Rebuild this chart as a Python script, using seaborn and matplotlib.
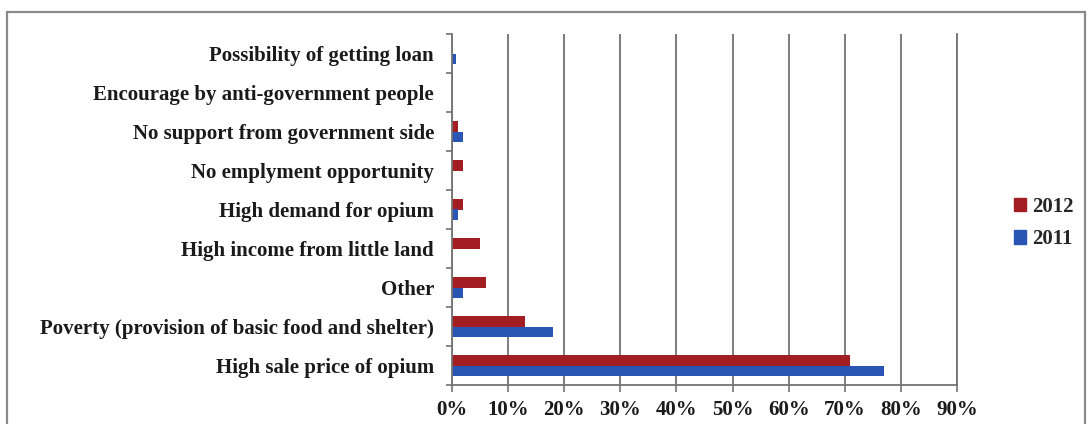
import numpy as np
import pandas as pd
import matplotlib
matplotlib.use("Agg")
import matplotlib.pyplot as plt
import seaborn as sns
from matplotlib.patches import Rectangle
from matplotlib.ticker import FixedLocator, PercentFormatter

# Reasons for growing poppy, share of respondents (%)
reasons = [
    "Possibility of getting loan",
    "Encourage by anti-government people",
    "No support from government side",
    "No emplyment opportunity",
    "High demand for opium",
    "High income from little land",
    "Other",
    "Poverty (provision of basic food and shelter)",
    "High sale price of opium",
]
share_2012 = [0, 0, 1, 2, 2, 5, 6, 13, 71]
share_2011 = [0.8, 0, 2, 0, 1, 0, 2, 18, 77]
years = ["2012", "2011"]
year_colors = ["#A31E23", "#2B55B5"]
x_ticks = [0, 10, 20, 30, 40, 50, 60, 70, 80, 90]

df = pd.DataFrame({
    "Reason": reasons * 2,
    "Share": share_2012 + share_2011,
    "Year": [years[0]] * len(reasons) + [years[1]] * len(reasons),
})

sns.set_theme(style="white")
plt.rcParams["font.family"] = ["Liberation Serif", "DejaVu Serif"]

W, H = 1088, 424
fig = plt.figure(figsize=(W / 100, H / 100), dpi=100)
fig.patch.set_facecolor("white")
ax = fig.add_axes([452 / W, 1 - 385 / H, (957 - 452) / W, (385 - 34) / H])

sns.barplot(
    data=df, y="Reason", x="Share", hue="Year",
    order=reasons, hue_order=years, palette=year_colors,
    orient="h", width=0.56, saturation=1, linewidth=0,
    ax=ax,
)

grid_color = "#737373"
ax.set_xlim(0, 90)
ax.xaxis.set_major_locator(FixedLocator(x_ticks))
ax.xaxis.set_major_formatter(PercentFormatter(decimals=0))
ax.xaxis.grid(True, color=grid_color, linewidth=1.3)
ax.set_axisbelow(True)
ax.set_xlabel("")
ax.set_ylabel("")

for side in ["left", "bottom", "right"]:
    ax.spines[side].set_visible(True)
    ax.spines[side].set_color(grid_color)
    ax.spines[side].set_linewidth(1.3)
ax.spines["top"].set_visible(False)

# category separators as outward ticks on the value axis
ax.yaxis.set_minor_locator(FixedLocator(np.arange(-0.5, len(reasons), 1.0)))
ax.tick_params(axis="y", which="major", length=0, pad=13,
               labelsize=15, labelcolor="#1a1a1a")
ax.tick_params(axis="y", which="minor", left=True, length=4,
               width=1.2, color=grid_color, direction="out")
ax.tick_params(axis="x", which="major", bottom=True, length=5,
               width=1.2, color=grid_color, direction="out", pad=6,
               labelsize=15, labelcolor="#1a1a1a")
for lbl in ax.get_yticklabels() + ax.get_xticklabels():
    lbl.set_fontweight("bold")

ax.legend_.remove()
handles = [Rectangle((0, 0), 1, 1, color=c) for c in year_colors]
fig.legend(
    handles, years, loc="center left",
    bbox_to_anchor=(995 / W, 1 - 223 / H),
    frameon=False, handlelength=0.6, handleheight=0.6,
    handletextpad=0.3, labelspacing=0.6,
    prop={"family": "Liberation Serif", "weight": "bold", "size": 15},
)

# outer chart frame
fig.patches.append(Rectangle(
    (7 / W, -0.05), (1085 - 7) / W, (H - 12) / H + 0.05,
    transform=fig.transFigure, fill=False,
    edgecolor="#8a8a8a", linewidth=1.6,
))

fig.savefig("out.png", dpi=100, facecolor="white")
